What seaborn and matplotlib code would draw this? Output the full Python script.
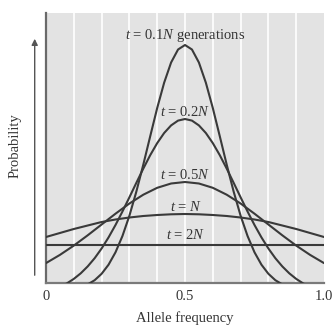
import numpy as np
import pandas as pd
import matplotlib
matplotlib.use("Agg")
import matplotlib.pyplot as plt
import seaborn as sns

# ---- data (relative probability) ----
freq_01N = [0.15, 0.175, 0.2, 0.225, 0.25, 0.275, 0.3, 0.325, 0.35, 0.375, 0.4, 0.425, 0.45, 0.475,
            0.5,
            0.525, 0.55, 0.575, 0.6, 0.625, 0.65, 0.675, 0.7, 0.725, 0.75, 0.775, 0.8, 0.825, 0.85]
prob_01N = [-1.4, 2.8, 9.2, 18.3, 30.7, 47.0, 67.3, 91.4, 118.4, 146.9, 175.0, 200.3, 220.5, 233.5,
            238.0,
            233.5, 220.5, 200.3, 175.0, 146.9, 118.4, 91.4, 67.3, 47.0, 30.7, 18.3, 9.2, 2.8, -1.4]

freq_02N = [0.05, 0.075, 0.1, 0.125, 0.15, 0.175, 0.2, 0.225, 0.25, 0.275, 0.3, 0.325, 0.35, 0.375,
            0.4, 0.425, 0.45, 0.475, 0.5, 0.525, 0.55, 0.575, 0.6, 0.625, 0.65, 0.675, 0.7, 0.725,
            0.75, 0.775, 0.8, 0.825, 0.85, 0.875, 0.9, 0.925, 0.95]
prob_02N = [-3.8, -0.4, 4.1, 9.7, 16.6, 24.8, 34.5, 45.6, 58.0, 71.5, 85.7, 100.2, 114.4, 127.9,
            139.9, 150.0, 157.6, 162.4, 164.0, 162.4, 157.6, 150.0, 139.9, 127.9, 114.4, 100.2, 85.7,
            71.5, 58.0, 45.6, 34.5, 24.8, 16.6, 9.7, 4.1, -0.4, -3.8]

freq_wide = [0.0, 0.05, 0.1, 0.15, 0.2, 0.25, 0.3, 0.35, 0.4, 0.45, 0.5,
             0.55, 0.6, 0.65, 0.7, 0.75, 0.8, 0.85, 0.9, 0.95, 1.0]
prob_05N = [19.9, 28.1, 37.4, 47.7, 58.5, 69.3, 79.5, 88.3, 95.2, 99.5, 101.0,
            99.5, 95.2, 88.3, 79.5, 69.3, 58.5, 47.7, 37.4, 28.1, 19.9]
prob_1N = [46.0, 50.0, 54.0, 57.5, 61.0, 63.5, 65.5, 67.0, 68.0, 68.7, 69.0,
           68.7, 68.0, 67.0, 65.5, 63.5, 61.0, 57.5, 54.0, 50.0, 46.0]
prob_2N = [38.5] * len(freq_wide)

curve_names = ["t = 0.1N", "t = 0.2N", "t = 0.5N", "t = N", "t = 2N"]
curve_labels = [r"$t$ = 0.1$N$ generations", r"$t$ = 0.2$N$", r"$t$ = 0.5$N$",
                r"$t$ = $N$", r"$t$ = 2$N$"]
label_heights = [248, 171, 108, 76, 48]

xtick_pos = [0.0, 0.5, 1.0]
xtick_text = ["0", "0.5", "1.0"]

frames = []
for name, xs, ys in [("t = 0.1N", freq_01N, prob_01N),
                     ("t = 0.2N", freq_02N, prob_02N),
                     ("t = 0.5N", freq_wide, prob_05N),
                     ("t = N", freq_wide, prob_1N),
                     ("t = 2N", freq_wide, prob_2N)]:
    frames.append(pd.DataFrame({"freq": xs, "prob": ys, "curve": name}))
df = pd.concat(frames, ignore_index=True)

# ---- style ----
sns.set_style("white")
plt.rcParams["font.family"] = ["Liberation Serif", "DejaVu Serif"]
plt.rcParams["mathtext.fontset"] = "custom"
plt.rcParams["mathtext.rm"] = "Liberation Serif"
plt.rcParams["mathtext.it"] = "Liberation Serif:italic"

ink = "#353535"
fs = 10.5
fig = plt.figure(figsize=(3.33, 3.29), dpi=100)
ax = fig.add_axes([46 / 333, 1 - 283 / 329, 278 / 333, 270 / 329])
ax.set_facecolor("#e3e3e3")

for gx in np.arange(0.1, 1.0, 0.1):
    ax.axvline(gx, color="white", lw=1.2, zorder=0.5)

sns.lineplot(data=df, x="freq", y="prob", hue="curve", units="curve", estimator=None,
             palette={n: "#3a3a3a" for n in curve_names}, legend=False, lw=1.5, ax=ax,
             sort=False, zorder=3)

ax.set_xlim(0, 1)
ax.set_ylim(0, 270)

for txt, h in zip(curve_labels, label_heights):
    ax.text(0.502, h, txt, ha="center", va="center", fontsize=fs, color=ink, zorder=4)

# spines / ticks
for s in ["top", "right"]:
    ax.spines[s].set_visible(False)
ax.spines["left"].set_color("#6a6a6a")
ax.spines["left"].set_linewidth(1.6)
ax.spines["bottom"].set_color("#7a7a7a")
ax.spines["bottom"].set_linewidth(1.6)

ax.set_xticks(np.round(np.arange(0.1, 1.01, 0.1), 1))
ax.set_xticklabels([])
ax.tick_params(axis="x", direction="in", length=4.5, width=1.2, color="#7a7a7a")
ax.set_yticks([])
for xp, xt in zip(xtick_pos, xtick_text):
    ax.text(xp, -14, xt, ha="center", va="center", fontsize=fs, color=ink, clip_on=False)

ax.set_xlabel("Allele frequency", fontsize=fs, color=ink, labelpad=0)
ax.xaxis.label.set_va("center")
ax.xaxis.set_label_coords(0.5, -35 / 270)
ax.set_ylabel("Probability", fontsize=fs, color=ink)
ax.yaxis.label.set_va("center")
ax.yaxis.set_label_coords(-31 / 278, 137 / 270)

# upward arrow beside the axis
fig.patches.append(matplotlib.patches.FancyArrowPatch(
    (34.7 / 333, 1 - 278 / 329), (34.7 / 333, 1 - 36 / 329), transform=fig.transFigure,
    arrowstyle="-|>", mutation_scale=9, color="#555555", lw=1.0))

fig.savefig("out.png", dpi=100)
